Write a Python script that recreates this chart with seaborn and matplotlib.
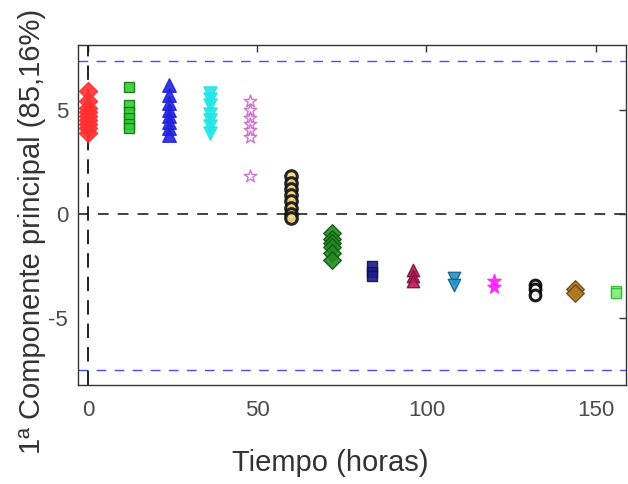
import numpy as np
import pandas as pd
import matplotlib
matplotlib.use("Agg")
import matplotlib.pyplot as plt
import seaborn as sns

# sampling times (hours) and PC1 scores
times = [0, 12, 24, 36, 48, 60, 72, 84, 96, 108, 120, 132, 144, 156]
scores = [
    [5.9, 5.4, 5.1, 4.9, 4.7, 4.5, 4.3, 4.1, 3.9],
    [6.1, 5.2, 4.9, 4.6, 4.3, 4.1],
    [6.2, 5.7, 5.3, 5.0, 4.7, 4.4, 4.1, 3.8],
    [5.8, 5.5, 5.2, 4.8, 4.5, 4.2, 3.9],
    [5.4, 5.0, 4.6, 4.3, 4.0, 3.7, 1.8],
    [1.8, 1.5, 1.2, 0.9, 0.6, 0.3, 0.0, -0.2],
    [-0.9, -1.2, -1.4, -1.6, -1.9, -2.2],
    [-2.5, -2.8, -3.0],
    [-2.7, -3.0, -3.2],
    [-3.1, -3.4],
    [-3.2, -3.5],
    [-3.4, -3.6, -3.9],
    [-3.6, -3.8],
    [-3.7, -3.8],
]
upper_limit = 7.35
lower_limit = -7.5

markers = ['D', 's', '^', 'v', '*', 'o', 'D', 's', '^', 'v', '*', 'o', 'D', 's']
faces = ['#ff3030', '#33cc33', '#2222dd', '#22e5e5', '#ffffff', '#f7d98a', '#1f8a1f',
         '#1c1c8c', '#b8195a', '#1f95cc', '#ff22ff', '#ffffff', '#b07820', '#88ee88']
edges = ['#ff3030', '#117711', '#2222dd', '#22e5e5', '#cc66cc', '#111111', '#115511',
         '#101050', '#7a1040', '#17607f', '#ff22ff', '#000000', '#6a4510', '#33bb33']
sizes = [85, 50, 95, 90, 90, 70, 80, 50, 80, 80, 100, 60, 80, 50]

rows = []
for t, vals in zip(times, scores):
    for v in vals:
        rows.append({'Tiempo': t, 'PC1': v})
df = pd.DataFrame(rows)

sns.set_theme(style="white")
plt.rcParams['font.family'] = ['Liberation Sans', 'DejaVu Sans']
plt.rcParams['axes.unicode_minus'] = False

fig = plt.figure(figsize=(6.28, 4.84), dpi=100)
ax = fig.add_axes([0.124, 0.205, 0.873, 0.702])

# control limits and reference lines
ax.axhline(upper_limit, color='#4a4aff', lw=1.0, ls=(0, (7, 6)), zorder=1)
ax.axhline(lower_limit, color='#4a4aff', lw=1.0, ls=(0, (7, 6)), zorder=1)
ax.axhline(0, color='#333333', lw=1.3, ls=(0, (6, 5)), zorder=1)
ax.axvline(0, color='#111111', lw=1.3, ls=(0, (8, 5)), zorder=1)

for i, t in enumerate(times):
    sub = df[df['Tiempo'] == t]
    lw = 2.2 if markers[i] == 'o' else 1.0
    sns.scatterplot(data=sub, x='Tiempo', y='PC1', marker=markers[i], s=sizes[i],
                    color=faces[i], edgecolor=edges[i], linewidth=lw,
                    alpha=0.9, ax=ax, zorder=3, legend=False)

ax.set_xlim(-3, 159)
ax.set_ylim(-8.2, 8.1)
ax.set_xticks([0, 50, 100, 150])
ax.set_yticks([-5, 0, 5])
ax.tick_params(direction='in', length=5, width=1, colors='#333333',
               labelcolor='#4a4a4a', labelsize=16, top=True, right=True,
               labeltop=False, labelright=False)
ax.tick_params(axis='x', pad=11)
ax.tick_params(axis='y', pad=7)
for sp in ax.spines.values():
    sp.set_color('#333333')
    sp.set_linewidth(1.0)

ax.set_xlabel('Tiempo (horas)', fontsize=21, color='#333333')
ax.set_ylabel('1ª Componente principal (85,16%)', fontsize=21, color='#333333')
ax.xaxis.set_label_coords(0.46, -0.229)
ax.xaxis.label.set_verticalalignment('center')
ax.yaxis.set_label_coords(-0.084, 0.45)
ax.yaxis.label.set_verticalalignment('center')

fig.savefig('out.png', dpi=100)
